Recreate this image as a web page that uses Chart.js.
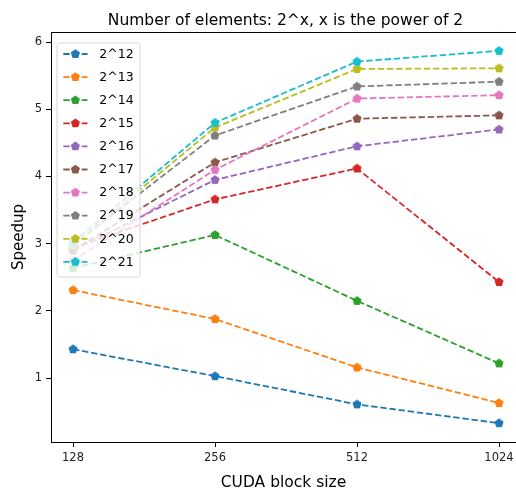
<!DOCTYPE html>
<html>
<head>
<meta charset="utf-8">
<script src="https://cdn.jsdelivr.net/npm/chart.js@4.4.1/dist/chart.umd.min.js"></script>
<style>
  html, body { margin: 0; padding: 0; overflow: hidden; background: #fff; }
</style>
</head>
<body>
<canvas id="c" width="516" height="490"></canvas>
<script>
// ---- data ----
const blockSizes = [128, 256, 512, 1024];
const seriesLabels = ['2^12','2^13','2^14','2^15','2^16','2^17','2^18','2^19','2^20','2^21'];
const s12 = [1.43, 1.03, 0.61, 0.33];
const s13 = [2.31, 1.88, 1.16, 0.63];
const s14 = [2.64, 3.13, 2.15, 1.22];
const s15 = [2.94, 3.66, 4.12, 2.43];
const s16 = [2.90, 3.95, 4.45, 4.70];
const s17 = [2.90, 4.21, 4.86, 4.91];
const s18 = [2.75, 4.10, 5.16, 5.21];
const s19 = [2.98, 4.61, 5.34, 5.41];
const s20 = [2.98, 4.73, 5.60, 5.61];
const s21 = [3.02, 4.80, 5.71, 5.87];
const seriesValues = [s12, s13, s14, s15, s16, s17, s18, s19, s20, s21];
const yTicks = [1, 2, 3, 4, 5, 6];
const colors = ['#1f77b4','#ff7f0e','#2ca02c','#d62728','#9467bd','#8c564b','#e377c2','#7f7f7f','#bcbd22','#17becf'];

const FONT = "'DejaVu Sans', sans-serif";

function pentagon(color, r) {
  const size = Math.ceil(r * 2 + 2);
  const cv = document.createElement('canvas');
  cv.width = size; cv.height = size;
  const g = cv.getContext('2d');
  drawPent(g, size / 2, size / 2, r, color);
  return cv;
}
function drawPent(g, cx, cy, r, color) {
  g.beginPath();
  for (let k = 0; k < 5; k++) {
    const a = -Math.PI / 2 + k * 2 * Math.PI / 5;
    const px = cx + r * Math.cos(a), py = cy + r * Math.sin(a);
    if (k === 0) g.moveTo(px, py); else g.lineTo(px, py);
  }
  g.closePath();
  g.fillStyle = color;
  g.fill();
}

const DASH = [6.4, 2.8];
const LW = 1.8;

const datasets = seriesValues.map((vals, i) => ({
  label: seriesLabels[i],
  data: vals.map((v, j) => ({ x: blockSizes[j], y: v })),
  borderColor: colors[i],
  backgroundColor: colors[i],
  borderWidth: LW,
  borderDash: DASH,
  pointStyle: pentagon(colors[i], 4.8),
  pointRadius: 5,
  tension: 0,
  fill: false,
  order: -i
}));

const framePlugin = {
  id: 'frame',
  afterDraw(chart) {
    const { ctx, chartArea: a } = chart;
    ctx.save();
    // top spine (right spine lies just outside the picture)
    ctx.strokeStyle = '#000';
    ctx.lineWidth = 1;
    ctx.beginPath();
    ctx.moveTo(Math.round(a.left), Math.round(a.top) + 0.5);
    ctx.lineTo(chart.width, Math.round(a.top) + 0.5);
    ctx.stroke();
    // title
    ctx.fillStyle = '#000';
    ctx.font = '15.5px ' + FONT;
    ctx.textAlign = 'center';
    ctx.textBaseline = 'alphabetic';
    ctx.fillText('Number of elements: 2^x, x is the power of 2', 285.5, 25);

    // legend
    const bx = 57, by = 43, bw = 83, bh = 234, rr = 3;
    ctx.beginPath();
    ctx.moveTo(bx + rr, by);
    ctx.lineTo(bx + bw - rr, by); ctx.quadraticCurveTo(bx + bw, by, bx + bw, by + rr);
    ctx.lineTo(bx + bw, by + bh - rr); ctx.quadraticCurveTo(bx + bw, by + bh, bx + bw - rr, by + bh);
    ctx.lineTo(bx + rr, by + bh); ctx.quadraticCurveTo(bx, by + bh, bx, by + bh - rr);
    ctx.lineTo(bx, by + rr); ctx.quadraticCurveTo(bx, by, bx + rr, by);
    ctx.closePath();
    ctx.fillStyle = 'rgba(255,255,255,0.8)';
    ctx.fill();
    ctx.strokeStyle = '#d6d6d6';
    ctx.lineWidth = 1;
    ctx.stroke();

    const rowH = 23.1;
    ctx.font = '12.5px ' + FONT;
    ctx.textAlign = 'left';
    ctx.textBaseline = 'middle';
    seriesLabels.forEach((lab, i) => {
      const y = 54 + i * rowH;
      ctx.strokeStyle = colors[i];
      ctx.lineWidth = LW;
      ctx.setLineDash(DASH);
      ctx.beginPath();
      ctx.moveTo(63.3, y); ctx.lineTo(87.5, y);
      ctx.stroke();
      ctx.setLineDash([]);
      drawPent(ctx, 75.4, y, 4.8, colors[i]);
      ctx.fillStyle = '#000';
      ctx.fillText(lab, 99.3, y + 0.5);
    });
    ctx.restore();
  }
};

new Chart(document.getElementById('c'), {
  type: 'line',
  data: { datasets },
  plugins: [framePlugin],
  options: {
    responsive: false,
    animation: false,
    events: [],
    layout: { autoPadding: false, padding: { top: 32, right: 0, left: 0, bottom: 0 } },
    plugins: { legend: { display: false }, title: { display: false }, tooltip: { enabled: false } },
    scales: {
      x: {
        type: 'logarithmic',
        min: 128 * Math.pow(2, -0.155),
        max: 1024 * Math.pow(2, 17 / 142),
        afterBuildTicks(scale) { scale.ticks = blockSizes.map(v => ({ value: v })); },
        afterFit(scale) { scale.height = 48; scale.paddingRight = 0; },
        ticks: {
          autoSkip: false, maxRotation: 0,
          color: '#222', font: { family: FONT, size: 11.5 }, padding: 4,
          callback: (v) => String(v)
        },
        grid: { drawOnChartArea: false, drawTicks: true, tickLength: 5, color: '#000' },
        border: { display: true, color: '#000', width: 1 },
        title: { display: true, text: 'CUDA block size', color: '#000',
                 font: { family: FONT, size: 15.5 }, padding: { top: 0, bottom: -2 } }
      },
      y: {
        type: 'linear',
        min: 0.05,
        max: 6.15,
        afterBuildTicks(scale) { scale.ticks = yTicks.map(v => ({ value: v })); },
        afterFit(scale) { scale.width = 51; },
        ticks: { color: '#222', font: { family: FONT, size: 11.5 }, padding: 4,
                 callback: (v) => String(v) },
        grid: { drawOnChartArea: false, drawTicks: true, tickLength: 5, color: '#000' },
        border: { display: true, color: '#000', width: 1 },
        title: { display: true, text: 'Speedup', color: '#000',
                 font: { family: FONT, size: 15 }, padding: { top: 10.5, bottom: 0 } }
      }
    }
  }
});
</script>
</body>
</html>
